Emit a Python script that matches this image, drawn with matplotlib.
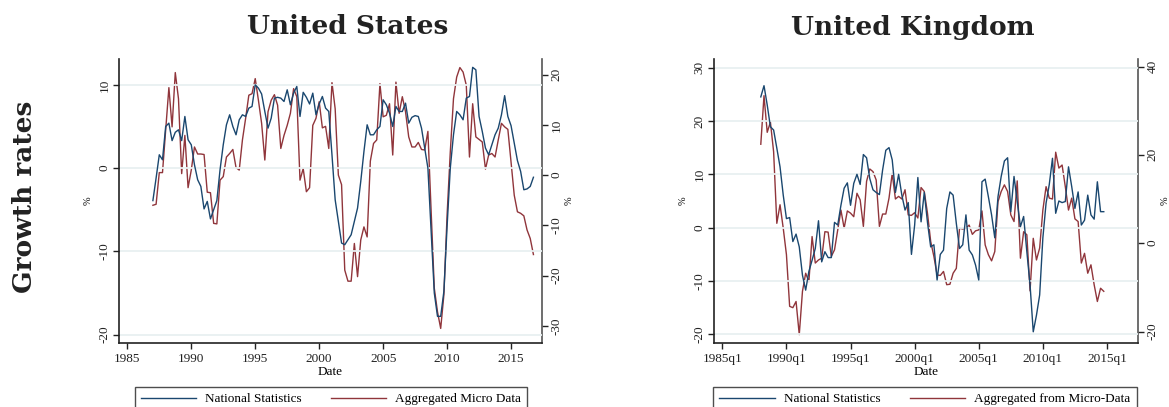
import numpy as np
import matplotlib
matplotlib.use("Agg")
import matplotlib.pyplot as plt

## quarterly growth rates
## US runs 1987q1 - 2016q4, UK runs 1988q1 - 2014q4

us_start = 1987
us_national = [
    -3.9, -1.2, 1.6, 1.0, 5.0, 5.4, 3.3, 4.3, 4.6, 3.3, 6.2, 3.4, 2.8, 0.4, -1.4, -2.2,
    -4.9, -4.0, -6.1, -5.0, -3.9, -0.2, 2.8, 5.2, 6.4, 5.0, 4.0, 5.8, 6.4, 6.2, 7.2, 7.4,
    10.0, 9.6, 8.9, 6.8, 4.8, 6.0, 8.4, 8.5, 8.4, 8.0, 9.4, 7.6, 9.0, 9.8, 6.2, 9.1,
    8.5, 7.7, 9.0, 6.4, 7.7, 8.6, 7.2, 6.8, 1.6, -3.8, -6.4, -9.0, -9.2, -8.6, -8.0, -6.4,
    -4.8, -1.6, 2.0, 5.2, 4.0, 4.0, 4.6, 5.0, 8.2, 7.6, 6.6, 5.0, 7.4, 6.8, 6.8, 7.8,
    5.4, 6.1, 6.3, 6.2, 4.8, 2.4, 0.0, -7.5, -15.0, -17.8, -17.8, -14.8, -7.0, 0.0, 4.0, 6.8,
    6.4, 5.8, 8.4, 8.6, 12.1, 11.8, 6.2, 4.4, 2.4, 1.6, 2.8, 4.0, 4.8, 6.4, 8.7, 6.2,
    5.1, 3.0, 0.9, -0.4, -2.6, -2.5, -2.2, -1.1,
]
us_micro = [
    -6.0, -5.8, 0.5, 0.5, 9.0, 17.4, 9.6, 20.4, 15.2, 0.3, 7.9, -2.5, 1.0, 5.6, 4.2, 4.2,
    4.1, -3.4, -3.5, -9.6, -9.7, -1.0, -0.3, 3.6, 4.3, 5.1, 1.5, 1.0, 7.0, 11.3, 15.9, 16.2,
    19.2, 14.9, 10.3, 3.0, 12.6, 14.9, 16.0, 13.9, 5.3, 7.9, 9.9, 12.3, 17.2, 15.6, -1.0, 1.3,
    -3.3, -2.5, 9.9, 11.3, 14.6, 9.4, 9.7, 5.3, 18.4, 13.2, 0.0, -1.9, -18.9, -21.1, -21.1, -13.6,
    -20.2, -12.9, -10.3, -12.3, 2.8, 6.3, 7.0, 18.2, 11.6, 11.9, 14.2, 4.0, 18.5, 12.3, 15.6, 12.6,
    7.6, 5.6, 5.6, 6.5, 5.1, 5.0, 8.7, -7.0, -22.5, -27.2, -30.5, -23.8, -7.9, 4.6, 15.2, 19.5,
    21.4, 20.5, 17.9, 3.6, 14.2, 7.6, 7.1, 6.6, 1.2, 4.0, 4.3, 3.6, 7.0, 10.3, 9.6, 9.1,
    2.6, -4.0, -7.3, -7.6, -8.1, -10.9, -12.6, -15.8,
]

uk_start = 1988
uk_national = [
    24.5, 26.6, 23.0, 18.9, 18.3, 14.9, 11.4, 6.1, 1.7, 1.9, -2.6, -1.2, -3.6, -8.9, -11.7, -8.2,
    -6.1, -3.9, 1.3, -6.4, -4.5, -5.6, -5.6, 1.0, 0.5, 4.2, 7.4, 8.4, 4.2, 8.3, 10.0, 8.1,
    13.7, 13.1, 9.2, 7.1, 6.6, 6.2, 10.8, 14.5, 15.0, 12.7, 6.6, 10.0, 6.1, 3.3, 4.7, -5.0,
    0.5, 9.4, 1.1, 6.6, 1.0, -3.6, -3.2, -9.8, -5.0, -4.2, 3.6, 6.7, 6.1, 0.8, -3.9, -3.2,
    2.4, -4.2, -5.1, -7.0, -9.8, 8.6, 9.1, 5.8, 2.4, -1.9, 5.8, 9.6, 12.5, 13.1, 3.0, 9.6,
    4.9, 0.2, 2.1, -4.5, -10.7, -19.5, -16.4, -12.6, -1.9, 4.6, 8.1, 13.0, 2.7, 5.0, 4.7, 4.9,
    11.4, 7.7, 3.6, 6.7, 0.5, 1.4, 6.1, 2.4, 1.6, 8.6, 3.0, 3.0,
]
uk_micro = [
    22.4, 33.4, 25.1, 27.4, 20.7, 4.5, 8.7, 3.4, -2.6, -14.3, -14.6, -13.2, -20.7, -10.9, -6.8, -8.7,
    1.5, -4.5, -3.8, -3.4, 2.6, 2.5, -3.0, -1.5, 3.0, 7.5, 3.4, 7.3, 6.8, 6.0, 11.3, 9.8,
    3.8, 14.0, 16.8, 16.2, 14.3, 3.8, 6.6, 6.6, 10.2, 15.8, 10.0, 10.6, 10.0, 12.1, 6.4, 6.3,
    6.9, 5.7, 12.6, 11.7, 6.8, 0.4, -3.0, -7.2, -7.3, -6.4, -9.4, -9.3, -6.8, -5.7, 3.4, 3.2,
    3.4, 4.1, 2.0, 2.8, 3.0, 7.3, -0.4, -2.6, -4.0, -1.9, 9.4, 11.7, 13.2, 11.7, 6.4, 4.9,
    14.1, -3.4, 2.6, 1.9, -10.8, 1.1, -3.8, -1.1, 7.5, 12.8, 10.2, 10.0, 20.6, 17.0, 17.7, 12.8,
    7.5, 10.2, 5.5, 4.9, -4.5, -2.3, -6.8, -4.9, -9.4, -13.2, -10.2, -10.9,
]

x_ticks = [1985, 1990, 1995, 2000, 2005, 2010, 2015]
us_xlabels = ["1985", "1990", "1995", "2000", "2005", "2010", "2015"]
uk_xlabels = ["1985q1", "1990q1", "1995q1", "2000q1", "2005q1", "2010q1", "2015q1"]

BLUE = "#1a476f"
RED = "#90353b"
GRID = "#e8f0f1"
SERIF = ["Liberation Serif", "DejaVu Serif"]
BOLD = ["DejaVu Serif"]

W, H = 1169, 407
fig = plt.figure(figsize=(W / 100, H / 100), dpi=100)


def panel(x0, x1, title, title_x, start, nat, mic, xlabels, lticks, rticks,
          llim, rlim, legend_labels, legend_x):
    ax = fig.add_axes([x0 / W, 1 - 343 / H, (x1 - x0) / W, (343 - 59) / H])
    ax2 = ax.twinx()
    dates = start + np.arange(len(nat)) / 4.0
    ln1, = ax.plot(dates, nat, color=BLUE, lw=1.0, label=legend_labels[0])
    ln2, = ax2.plot(dates, mic, color=RED, lw=1.0, label=legend_labels[1])
    ax.set_zorder(ax2.get_zorder() + 1)
    ax.patch.set_visible(False)

    ax.set_xlim(1984.35, 2017.42)
    ax.set_ylim(*llim)
    ax2.set_ylim(*rlim)
    ax.set_xticks(x_ticks)
    ax.set_xticklabels(xlabels, fontsize=9.5, family=SERIF)
    ax.set_yticks(lticks)
    ax.set_yticklabels([str(t) for t in lticks], fontsize=9.5, family=SERIF,
                       rotation=90, va="center")
    ax2.set_yticks(rticks)
    ax2.set_yticklabels([str(t) for t in rticks], fontsize=9.5, family=SERIF,
                        rotation=90, va="center")
    for t in lticks:
        ax.axhline(t, color=GRID, lw=1.3, zorder=0)

    for a in (ax, ax2):
        a.spines["top"].set_visible(False)
        a.tick_params(direction="out", length=4, width=1, colors="#222222", pad=2)
    ax.tick_params(axis="x", pad=3)
    ax.spines["right"].set_visible(False)
    ax2.spines["left"].set_visible(False)
    ax2.spines["bottom"].set_visible(False)
    ax.spines["left"].set_color("#222222")
    ax.spines["bottom"].set_color("#222222")
    ax2.spines["right"].set_color("#555555")
    ax.spines["left"].set_linewidth(1.2)
    ax.spines["bottom"].set_linewidth(1.2)
    ax2.spines["right"].set_linewidth(1.2)

    ax.set_xlabel("Date", fontsize=9.5, family=SERIF, labelpad=1)
    ax.set_ylabel("%", fontsize=7.5, family=SERIF, labelpad=4)
    ax2.set_ylabel("%", fontsize=7.5, family=SERIF, labelpad=2, rotation=90)

    fig.text(title_x / W, 1 - 27 / H, title, ha="center", va="center",
             fontsize=19, fontweight="bold", family=BOLD, color="#222222")

    leg = fig.legend([ln1, ln2], legend_labels, loc="upper center",
                     bbox_to_anchor=(legend_x / W, 1 - 387 / H), ncol=2,
                     frameon=True, fancybox=False, edgecolor="#222222",
                     borderaxespad=0, handlelength=4.2, handletextpad=0.7,
                     columnspacing=2.2, borderpad=0.45,
                     prop={"family": SERIF, "size": 9.5})
    leg.get_frame().set_linewidth(1.0)


panel(119, 542, "United States", 348, us_start, us_national, us_micro, us_xlabels,
      [-20, -10, 0, 10], [-30, -20, -10, 0, 10, 20], (-21.0, 13.1), (-33.4, 23.1),
      ["National Statistics", "Aggregated Micro Data"], 331)
panel(714, 1138, "United Kingdom", 913, uk_start, uk_national, uk_micro, uk_xlabels,
      [-20, -10, 0, 10, 20, 30], [-20, 0, 20, 40], (-21.6, 31.6), (-22.6, 41.7),
      ["National Statistics", "Aggregated from Micro-Data"], 925)

fig.text(25 / W, 1 - 197 / H, "Growth rates", rotation=90, ha="center", va="center",
         fontsize=19, fontweight="bold", family=BOLD, color="#222222")

fig.savefig("out.png", dpi=100)
